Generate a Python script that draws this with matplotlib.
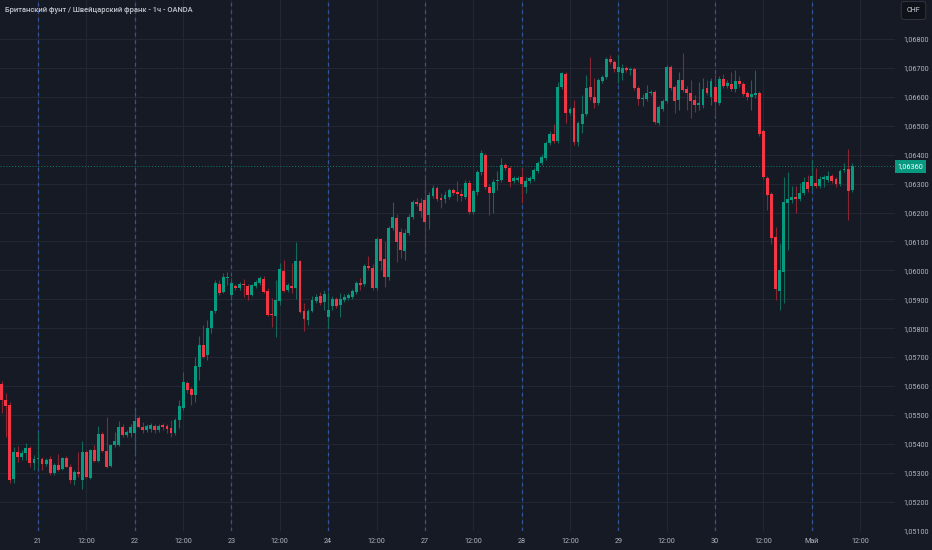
import numpy as np
import matplotlib
matplotlib.use('Agg')
import matplotlib.pyplot as plt

plt.rcParams['font.family'] = ['Roboto', 'DejaVu Sans']

# GBP/CHF 1h candles
opens = [
    1.05607, 1.05552, 1.05534, 1.05279, 1.05372, 1.05355, 1.05368, 1.05386, 1.05334, 1.05348,
    1.05348, 1.05330, 1.05348, 1.05299, 1.05327, 1.05313, 1.05351, 1.05320, 1.05275, 1.05303,
    1.05275, 1.05372, 1.05282, 1.05379, 1.05341, 1.05434, 1.05375, 1.05324, 1.05396, 1.05396,
    1.05458, 1.05431, 1.05438, 1.05438, 1.05489, 1.05458, 1.05448, 1.05451, 1.05462, 1.05448,
    1.05465, 1.05462, 1.05455, 1.05438, 1.05482, 1.05524, 1.05610, 1.05590, 1.05569, 1.05666,
    1.05742, 1.05707, 1.05801, 1.05859, 1.05953, 1.05925, 1.05974, 1.05915, 1.05946, 1.05939,
    1.05953, 1.05946, 1.05915, 1.05946, 1.05956, 1.05970, 1.05929, 1.05849, 1.05842, 1.05894,
    1.05998, 1.05932, 1.05946, 1.05939, 1.06032, 1.05859, 1.05828, 1.05859, 1.05894, 1.05911,
    1.05891, 1.05839, 1.05877, 1.05901, 1.05880, 1.05897, 1.05904, 1.05908, 1.05925, 1.05956,
    1.05953, 1.06015, 1.06008, 1.05939, 1.06108, 1.06039, 1.05977, 1.06146, 1.06181, 1.06133,
    1.06067, 1.06129, 1.06185, 1.06236, 1.06233, 1.06243, 1.06191, 1.06257, 1.06285, 1.06250,
    1.06247, 1.06254, 1.06278, 1.06271, 1.06264, 1.06254, 1.06302, 1.06202, 1.06271, 1.06340,
    1.06399, 1.06288, 1.06267, 1.06309, 1.06312, 1.06364, 1.06354, 1.06309, 1.06312, 1.06323,
    1.06288, 1.06309, 1.06316, 1.06344, 1.06371, 1.06389, 1.06440, 1.06471, 1.06447, 1.06634,
    1.06679, 1.06544, 1.06561, 1.06444, 1.06506, 1.06541, 1.06634, 1.06599, 1.06579, 1.06655,
    1.06669, 1.06731, 1.06720, 1.06686, 1.06682, 1.06700, 1.06693, 1.06696, 1.06631, 1.06593,
    1.06593, 1.06613, 1.06617, 1.06510, 1.06558, 1.06586, 1.06703, 1.06634, 1.06589, 1.06658,
    1.06627, 1.06613, 1.06589, 1.06572, 1.06572, 1.06631, 1.06599, 1.06634, 1.06579, 1.06662,
    1.06637, 1.06644, 1.06627, 1.06655, 1.06644, 1.06613, 1.06599, 1.06606, 1.06613, 1.06482,
    1.06319, 1.06264, 1.06115, 1.05929, 1.05994, 1.06233, 1.06243, 1.06254, 1.06247, 1.06267,
    1.06305, 1.06292, 1.06302, 1.06292, 1.06316, 1.06312, 1.06326, 1.06316, 1.06299, 1.06347,
    1.06350, 1.06278,
]
highs = [
    1.05617, 1.05576, 1.05545, 1.05389, 1.05393, 1.05379, 1.05403, 1.05393, 1.05362, 1.05441,
    1.05355, 1.05351, 1.05358, 1.05334, 1.05365, 1.05355, 1.05358, 1.05330, 1.05310, 1.05372,
    1.05410, 1.05379, 1.05382, 1.05396, 1.05462, 1.05441, 1.05493, 1.05400, 1.05441, 1.05479,
    1.05469, 1.05448, 1.05469, 1.05514, 1.05496, 1.05476, 1.05469, 1.05472, 1.05469, 1.05469,
    1.05472, 1.05469, 1.05482, 1.05489, 1.05552, 1.05648, 1.05617, 1.05597, 1.05700, 1.05773,
    1.05811, 1.05828, 1.05863, 1.05967, 1.05967, 1.05991, 1.05994, 1.05974, 1.05953, 1.05960,
    1.05970, 1.05953, 1.05953, 1.05967, 1.05980, 1.05980, 1.05939, 1.05904, 1.05967, 1.06025,
    1.06036, 1.05956, 1.06025, 1.06098, 1.06036, 1.05887, 1.05866, 1.05911, 1.05918, 1.05925,
    1.05932, 1.05925, 1.05911, 1.05908, 1.05922, 1.05918, 1.05922, 1.05935, 1.05963, 1.05974,
    1.06022, 1.06050, 1.06022, 1.06115, 1.06112, 1.06101, 1.06153, 1.06236, 1.06195, 1.06146,
    1.06143, 1.06195, 1.06243, 1.06250, 1.06250, 1.06323, 1.06271, 1.06295, 1.06292, 1.06267,
    1.06274, 1.06285, 1.06285, 1.06309, 1.06281, 1.06312, 1.06312, 1.06281, 1.06347, 1.06416,
    1.06406, 1.06299, 1.06316, 1.06344, 1.06389, 1.06371, 1.06361, 1.06326, 1.06326, 1.06354,
    1.06323, 1.06326, 1.06354, 1.06378, 1.06402, 1.06447, 1.06482, 1.06506, 1.06651, 1.06686,
    1.06686, 1.06565, 1.06589, 1.06516, 1.06606, 1.06676, 1.06738, 1.06665, 1.06665, 1.06676,
    1.06738, 1.06745, 1.06727, 1.06745, 1.06714, 1.06707, 1.06703, 1.06703, 1.06637, 1.06610,
    1.06641, 1.06624, 1.06624, 1.06572, 1.06593, 1.06710, 1.06710, 1.06641, 1.06686, 1.06752,
    1.06637, 1.06658, 1.06606, 1.06651, 1.06665, 1.06658, 1.06665, 1.06679, 1.06672, 1.06679,
    1.06658, 1.06686, 1.06693, 1.06672, 1.06651, 1.06620, 1.06658, 1.06693, 1.06620, 1.06489,
    1.06326, 1.06271, 1.06150, 1.06095, 1.06323, 1.06340, 1.06292, 1.06292, 1.06302, 1.06323,
    1.06330, 1.06382, 1.06354, 1.06326, 1.06330, 1.06344, 1.06333, 1.06323, 1.06350, 1.06371,
    1.06420, 1.06371,
]
lows = [
    1.05507, 1.05424, 1.05265, 1.05265, 1.05337, 1.05344, 1.05344, 1.05320, 1.05310, 1.05317,
    1.05310, 1.05324, 1.05292, 1.05292, 1.05306, 1.05310, 1.05320, 1.05265, 1.05258, 1.05285,
    1.05244, 1.05282, 1.05279, 1.05337, 1.05337, 1.05372, 1.05317, 1.05320, 1.05389, 1.05393,
    1.05424, 1.05424, 1.05424, 1.05365, 1.05455, 1.05438, 1.05441, 1.05441, 1.05438, 1.05441,
    1.05448, 1.05438, 1.05424, 1.05431, 1.05455, 1.05517, 1.05576, 1.05534, 1.05545, 1.05621,
    1.05697, 1.05690, 1.05783, 1.05852, 1.05915, 1.05922, 1.05949, 1.05897, 1.05932, 1.05932,
    1.05908, 1.05897, 1.05911, 1.05939, 1.05949, 1.05922, 1.05842, 1.05804, 1.05770, 1.05880,
    1.05925, 1.05925, 1.05922, 1.05901, 1.05852, 1.05790, 1.05811, 1.05856, 1.05887, 1.05880,
    1.05863, 1.05801, 1.05863, 1.05870, 1.05839, 1.05891, 1.05897, 1.05901, 1.05918, 1.05932,
    1.05946, 1.06001, 1.05932, 1.05932, 1.06001, 1.05942, 1.05967, 1.06140, 1.06029, 1.06043,
    1.06036, 1.06122, 1.06178, 1.06223, 1.06185, 1.06070, 1.06143, 1.06250, 1.06240, 1.06216,
    1.06233, 1.06247, 1.06261, 1.06240, 1.06240, 1.06247, 1.06195, 1.06195, 1.06261, 1.06330,
    1.06281, 1.06191, 1.06198, 1.06278, 1.06305, 1.06347, 1.06288, 1.06302, 1.06305, 1.06233,
    1.06267, 1.06302, 1.06309, 1.06337, 1.06364, 1.06382, 1.06433, 1.06440, 1.06440, 1.06627,
    1.06510, 1.06537, 1.06433, 1.06430, 1.06475, 1.06534, 1.06589, 1.06561, 1.06572, 1.06648,
    1.06662, 1.06714, 1.06686, 1.06648, 1.06658, 1.06686, 1.06676, 1.06624, 1.06572, 1.06568,
    1.06586, 1.06606, 1.06506, 1.06503, 1.06551, 1.06579, 1.06624, 1.06544, 1.06554, 1.06617,
    1.06554, 1.06527, 1.06548, 1.06554, 1.06561, 1.06606, 1.06572, 1.06537, 1.06572, 1.06631,
    1.06631, 1.06620, 1.06617, 1.06634, 1.06603, 1.06589, 1.06554, 1.06596, 1.06465, 1.06316,
    1.06209, 1.06091, 1.05897, 1.05863, 1.05887, 1.06070, 1.06233, 1.06198, 1.06240, 1.06261,
    1.06271, 1.06278, 1.06285, 1.06285, 1.06288, 1.06305, 1.06302, 1.06288, 1.06292, 1.06340,
    1.06174, 1.06271,
]
closes = [
    1.05552, 1.05531, 1.05275, 1.05372, 1.05355, 1.05368, 1.05386, 1.05334, 1.05348, 1.05351,
    1.05330, 1.05344, 1.05299, 1.05327, 1.05310, 1.05351, 1.05320, 1.05275, 1.05303, 1.05296,
    1.05372, 1.05285, 1.05379, 1.05341, 1.05434, 1.05375, 1.05320, 1.05396, 1.05410, 1.05458,
    1.05431, 1.05441, 1.05458, 1.05479, 1.05458, 1.05448, 1.05462, 1.05465, 1.05448, 1.05462,
    1.05458, 1.05451, 1.05438, 1.05482, 1.05531, 1.05614, 1.05586, 1.05569, 1.05669, 1.05742,
    1.05700, 1.05801, 1.05859, 1.05956, 1.05922, 1.05977, 1.05977, 1.05956, 1.05939, 1.05953,
    1.05949, 1.05915, 1.05949, 1.05960, 1.05974, 1.05925, 1.05846, 1.05846, 1.05897, 1.06005,
    1.05929, 1.05949, 1.05939, 1.06032, 1.05856, 1.05832, 1.05859, 1.05897, 1.05908, 1.05887,
    1.05918, 1.05863, 1.05901, 1.05877, 1.05901, 1.05908, 1.05915, 1.05929, 1.05956, 1.05949,
    1.06015, 1.06008, 1.05939, 1.06108, 1.06032, 1.05977, 1.06146, 1.06185, 1.06098, 1.06070,
    1.06129, 1.06185, 1.06236, 1.06229, 1.06205, 1.06167, 1.06261, 1.06285, 1.06247, 1.06243,
    1.06261, 1.06278, 1.06267, 1.06264, 1.06257, 1.06302, 1.06202, 1.06274, 1.06340, 1.06406,
    1.06288, 1.06267, 1.06305, 1.06312, 1.06364, 1.06354, 1.06305, 1.06319, 1.06319, 1.06299,
    1.06309, 1.06319, 1.06347, 1.06371, 1.06392, 1.06440, 1.06471, 1.06447, 1.06634, 1.06682,
    1.06544, 1.06558, 1.06444, 1.06510, 1.06541, 1.06631, 1.06599, 1.06579, 1.06658, 1.06669,
    1.06731, 1.06720, 1.06696, 1.06703, 1.06700, 1.06693, 1.06696, 1.06631, 1.06593, 1.06596,
    1.06613, 1.06617, 1.06513, 1.06565, 1.06586, 1.06703, 1.06631, 1.06586, 1.06658, 1.06624,
    1.06613, 1.06586, 1.06572, 1.06579, 1.06627, 1.06613, 1.06655, 1.06582, 1.06662, 1.06637,
    1.06648, 1.06627, 1.06655, 1.06644, 1.06610, 1.06599, 1.06610, 1.06613, 1.06471, 1.06323,
    1.06261, 1.06112, 1.05935, 1.06001, 1.06236, 1.06247, 1.06254, 1.06247, 1.06267, 1.06305,
    1.06281, 1.06326, 1.06292, 1.06316, 1.06323, 1.06326, 1.06309, 1.06299, 1.06344, 1.06350,
    1.06274, 1.06360,
]

day_labels = ['21', '22', '23', '24', '27', '28', '29', '30', 'Май']
first_day_bar = 9
bars_per_day = 24
price_ticks = np.arange(1.051, 1.0685, 0.001)
title = 'Британский фунт / Швейцарский франк - 1ч - OANDA'

bg = '#161a25'
up = '#089981'
down = '#f23645'
up_wick = '#12685a'
down_wick = '#8a2532'
txt = '#b2b5be'

o = np.array(opens)
h = np.array(highs)
l = np.array(lows)
c = np.array(closes)
x = np.arange(len(o))
rising = c >= o

fig = plt.figure(figsize=(9.32, 5.5), dpi=100, facecolor=bg)
ax = fig.add_axes([0, 19 / 550, 895 / 932, 531 / 550])
ax.set_facecolor(bg)

# wicks then bodies
ax.vlines(x, l, h, colors=np.where(rising, up_wick, down_wick), linewidth=0.8, zorder=3)
body_h = np.maximum(np.abs(c - o), 0.00004)
ax.bar(x, body_h, bottom=np.minimum(o, c), width=0.72,
       color=np.where(rising, up, down), linewidth=0, zorder=4)

ax.set_xlim(-0.43, 221.65)
ax.set_ylim(1.050987, 1.069349)

# time axis: day starts and 12:00 in between
pos, labs = [], []
for k, d in enumerate(day_labels):
    p = first_day_bar + k * bars_per_day
    pos += [p, p + bars_per_day // 2]
    labs += [d, '12:00']
ax.set_xticks(pos)
ax.set_xticklabels(labs)
ax.tick_params(axis='x', length=0, pad=5, labelsize=5.2, labelcolor=txt)

ax.yaxis.tick_right()
ax.set_yticks(price_ticks)
ax.set_yticklabels([f'{v:.5f}'.replace('.', ',') for v in price_ticks])
ax.tick_params(axis='y', length=0, pad=6, labelsize=5.2, labelcolor=txt)

ax.grid(True, color='#242835', linewidth=0.7)
ax.set_axisbelow(True)
for s in ax.spines.values():
    s.set_visible(False)

for k in range(len(day_labels)):
    ax.axvline(first_day_bar + k * bars_per_day, color='#31549a',
               linestyle=(0, (3, 3)), linewidth=0.9, zorder=2)

last = c[-1]
ax.axhline(last, color=up, linestyle=(0, (1, 2)), linewidth=0.7, alpha=0.8, zorder=2)
ax.text(1.003, last, f'{last:.5f}'.replace('.', ','), transform=ax.get_yaxis_transform(),
        ha='left', va='center', fontsize=5.2, color='white', clip_on=False,
        bbox=dict(boxstyle='square,pad=0.4', fc=up, ec='none'))

fig.text(913.5 / 932, 1 - 10.5 / 550, 'CHF', ha='center', va='center', fontsize=5.2,
         color='#d1d4dc',
         bbox=dict(boxstyle='round,pad=0.75,rounding_size=0.35', fc='#0f1219', ec='#363a45', lw=0.6))
fig.text(5 / 932, 1 - 10 / 550, title, ha='left', va='center', fontsize=5.4,
         color='#c3c6ce', fontweight='medium')

fig.savefig('out.png', dpi=100, facecolor=bg)
